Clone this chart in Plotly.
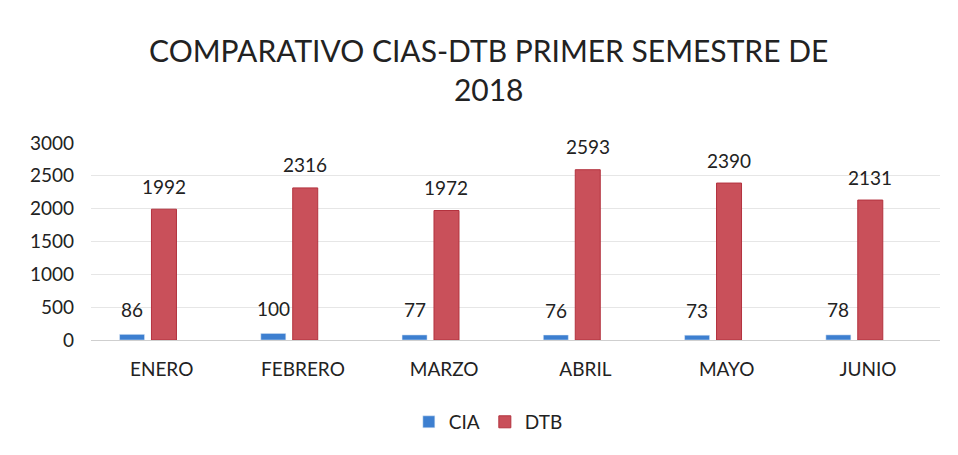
import plotly.graph_objects as go

months = ["ENERO", "FEBRERO", "MARZO", "ABRIL", "MAYO", "JUNIO"]
cia = [86, 100, 77, 76, 73, 78]
dtb = [1992, 2316, 1972, 2593, 2390, 2131]
y_ticks = [0, 500, 1000, 1500, 2000, 2500, 3000]

font_family = "Lato, 'Open Sans', sans-serif"
pos = list(range(len(months)))
bar_w = 0.177
cia_off = -0.198
dtb_off = 0.028

fig = go.Figure()
fig.add_trace(go.Bar(name="CIA", x=pos, y=cia, marker_color="#3d7fd0",
                     width=bar_w, offset=cia_off))
fig.add_trace(go.Bar(name="DTB", x=pos, y=dtb, marker_color="#c9505a",
                     marker_line=dict(color="#b3323e", width=1),
                     width=bar_w, offset=dtb_off))

for i, v in zip(pos, cia):
    fig.add_annotation(x=i + cia_off + bar_w / 2, y=v, text=str(v), showarrow=False,
                       yanchor="middle", yshift=25, font=dict(size=19, color="#222"))
for i, v in zip(pos, dtb):
    fig.add_annotation(x=i + dtb_off + bar_w / 2, y=v, text=str(v), showarrow=False,
                       yanchor="middle", yshift=23, font=dict(size=19, color="#222"))

fig.update_layout(
    width=950, height=447,
    barmode="overlay",
    paper_bgcolor="white", plot_bgcolor="white",
    font=dict(family=font_family, color="#222"),
    title=dict(text="COMPARATIVO CIAS-DTB PRIMER SEMESTRE DE<br>2018",
               x=0.506, xanchor="center", y=0.88, yanchor="top",
               font=dict(size=30, color="#222")),
    margin=dict(l=83, r=18, t=135, b=115),
    xaxis=dict(range=[-0.40, 5.61], tickvals=[p + 0.1 for p in pos], ticktext=months,
               tickfont=dict(size=19), showline=True, linecolor="#cfcfcf",
               ticks="", ticklabelstandoff=12, showgrid=False, zeroline=False),
    yaxis=dict(range=[0, 3000], tickvals=y_ticks, tickfont=dict(size=19),
               showgrid=True, gridcolor="#e6e6e6", zeroline=False, ticks="",
               ticklabelstandoff=16),
    legend=dict(orientation="h", x=0.468, xanchor="center", y=-0.416, yanchor="middle",
                font=dict(size=19), itemwidth=30),
    showlegend=True,
)

fig.write_html("out.html")
